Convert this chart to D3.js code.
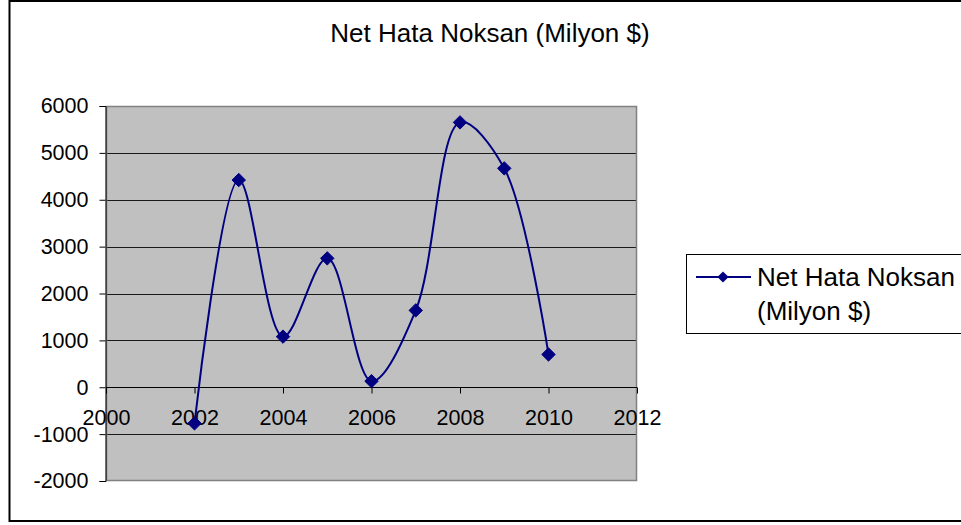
<!DOCTYPE html>
<html>
<head>
<meta charset="utf-8">
<script src="https://cdn.jsdelivr.net/npm/d3@7"></script>
<style>
  html, body { margin: 0; padding: 0; background: #fff; }
  svg { display: block; }
  text { font-family: "Liberation Sans", Arial, sans-serif; fill: #000; }
</style>
</head>
<body>
<svg id="chart" width="961" height="525"></svg>
<script>
// Net errors and omissions by year (million $)
const years = [2002, 2003, 2004, 2005, 2006, 2007, 2008, 2009, 2010];
const values = [-770, 4420, 1080, 2750, 130, 1640, 5650, 4670, 700];
const yTicks = [-2000, -1000, 0, 1000, 2000, 3000, 4000, 5000, 6000];
const xTicks = [2000, 2002, 2004, 2006, 2008, 2010, 2012];
const seriesName = "Net Hata Noksan (Milyon $)";
const legendLines = ["Net Hata Noksan", "(Milyon $)"];

const svg = d3.select("#chart");
const navy = "#000080";
const FONT = "Liberation Sans, Arial, sans-serif";

// outer chart frame
svg.append("rect")
  .attr("x", 9.5).attr("y", 1).attr("width", 960).attr("height", 520)
  .attr("fill", "#fff").attr("stroke", "#000").attr("stroke-width", 2);

// title
svg.append("text")
  .attr("x", 490).attr("y", 42)
  .attr("text-anchor", "middle")
  .attr("font-size", 26)
  .text(seriesName);

const plot = { left: 106, right: 637, top: 106, bottom: 481 };
const x = d3.scaleLinear().domain([2000, 2012]).range([plot.left, plot.right]);
const y = d3.scaleLinear().domain([-2000, 6000]).range([plot.bottom, plot.top]);

// plot background
svg.append("rect")
  .attr("x", plot.left).attr("y", plot.top)
  .attr("width", plot.right - plot.left).attr("height", plot.bottom - plot.top)
  .attr("fill", "#c0c0c0");

// horizontal gridlines
svg.append("g")
  .selectAll("line")
  .data(yTicks.filter(v => v > -2000 && v < 6000))
  .join("line")
  .attr("x1", plot.left).attr("x2", plot.right)
  .attr("y1", d => Math.round(y(d)) + 0.5).attr("y2", d => Math.round(y(d)) + 0.5)
  .attr("stroke", "#1a1a1a").attr("stroke-width", 1);

// plot border
svg.append("rect")
  .attr("x", plot.left + 0.5).attr("y", plot.top + 0.5)
  .attr("width", plot.right - plot.left - 1).attr("height", plot.bottom - plot.top - 1)
  .attr("fill", "none").attr("stroke", "#808080").attr("stroke-width", 1.5);

const fmt = d => String(d);

// y axis
const yAxis = d3.axisLeft(y).tickValues(yTicks).tickSize(6).tickPadding(11).tickFormat(fmt);
const gy = svg.append("g").attr("transform", `translate(${plot.left - 0.5},0)`).call(yAxis);
gy.attr("font-size", 21.5).attr("font-family", FONT);
gy.select(".domain").attr("stroke", "#000");
gy.selectAll(".tick line").attr("stroke", "#000");
gy.selectAll(".tick text").attr("fill", "#000");

// x axis crossing at zero
const xAxis = d3.axisBottom(x).tickValues(xTicks).tickSize(6).tickPadding(16).tickFormat(fmt);
const gx = svg.append("g").attr("transform", `translate(0,${Math.round(y(0)) + 0.5})`).call(xAxis);
gx.attr("font-size", 21.5).attr("font-family", FONT);
gx.select(".domain").attr("stroke", "#000").attr("d", `M${plot.left},0H${plot.right}`);
gx.selectAll(".tick line").attr("stroke", "#000");
gx.selectAll(".tick text").attr("fill", "#000");

// smoothed series line
const data = years.map((yr, i) => ({ yr, v: values[i] }));
const line = d3.line().x(d => x(d.yr)).y(d => y(d.v)).curve(d3.curveCatmullRom.alpha(0.5));
svg.append("path")
  .datum(data)
  .attr("d", line)
  .attr("fill", "none")
  .attr("stroke", navy)
  .attr("stroke-width", 2);

// diamond markers
const diamond = d3.symbol().type(d3.symbolDiamond2).size(115);
svg.append("g")
  .selectAll("path")
  .data(data)
  .join("path")
  .attr("d", diamond)
  .attr("transform", d => `translate(${x(d.yr)},${y(d.v)})`)
  .attr("fill", navy).attr("stroke", navy).attr("stroke-width", 1);

// legend
const lg = svg.append("g");
lg.append("rect")
  .attr("x", 686.5).attr("y", 254.5).attr("width", 290).attr("height", 79)
  .attr("fill", "#fff").attr("stroke", "#000").attr("stroke-width", 1);
lg.append("line")
  .attr("x1", 696).attr("x2", 751).attr("y1", 277).attr("y2", 277)
  .attr("stroke", navy).attr("stroke-width", 2);
lg.append("path")
  .attr("d", d3.symbol().type(d3.symbolDiamond2).size(80))
  .attr("transform", "translate(723,277)")
  .attr("fill", navy);
lg.selectAll("text.lbl")
  .data(legendLines)
  .join("text")
  .attr("class", "lbl")
  .attr("x", 757)
  .attr("y", (d, i) => 286 + i * 34)
  .attr("font-size", 26)
  .text(d => d);
</script>
</body>
</html>
